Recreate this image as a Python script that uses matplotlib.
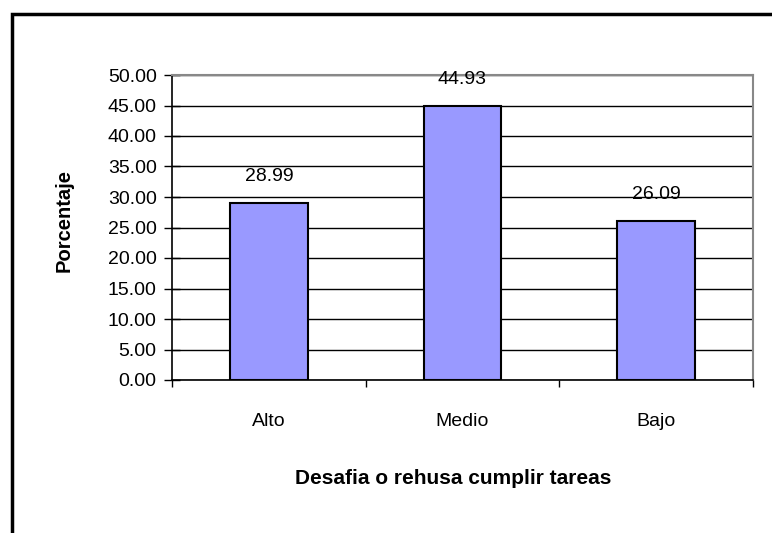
import matplotlib
matplotlib.use("Agg")
import matplotlib.pyplot as plt
from matplotlib.patches import Rectangle

categories = ["Alto", "Medio", "Bajo"]
values = [28.99, 44.93, 26.09]
yticks = [0, 5, 10, 15, 20, 25, 30, 35, 40, 45, 50]
xlabel = "Desafia o rehusa cumplir tareas"
ylabel = "Porcentaje"

plain = ["Liberation Sans", "DejaVu Sans"]

fig = plt.figure(figsize=(7.72, 5.33), dpi=100)
fig.patch.set_facecolor("white")

# outer chart frame (cropped at right and bottom)
fig.add_artist(Rectangle((12/772, -0.05), 1.2, (533-14)/533 + 0.05,
                         transform=fig.transFigure, fill=False,
                         edgecolor="black", linewidth=2.5))

ax = fig.add_axes([172/772, (533-380)/533, (753-172)/772, (380-75)/533])
x = list(range(len(categories)))
ax.bar(x, values, width=0.4, color="#9999FF", edgecolor="black", linewidth=1.5, zorder=3)
ax.set_xlim(-0.5, len(categories) - 0.5)
ax.set_ylim(0, 50)

ax.set_yticks(yticks)
ax.set_yticklabels([f"{v:.2f}" for v in yticks], fontfamily=plain, fontsize=14)
ax.yaxis.grid(True, color="black", linewidth=1, zorder=0)
ax.set_axisbelow(True)

ax.set_xticks(x)
ax.set_xticklabels(categories, fontfamily=plain, fontsize=14)
ax.tick_params(axis="x", length=0, pad=24)
ax.tick_params(axis="y", direction="inout", length=12, width=1, color="black", pad=5)
# category boundary ticks
ax.set_xticks([-0.5, 0.5, 1.5, 2.5], minor=True)
ax.tick_params(axis="x", which="minor", length=5, width=1, color="black")

for s in ["top", "right"]:
    ax.spines[s].set_color("#888888")
    ax.spines[s].set_linewidth(1.5)
for s in ["left", "bottom"]:
    ax.spines[s].set_color("black")
    ax.spines[s].set_linewidth(1.2)

for xi, v in zip(x, values):
    ax.annotate(f"{v:.2f}", (xi, v), xytext=(0, 16), textcoords="offset points",
                ha="center", va="baseline", fontfamily=plain, fontsize=14)

fig.text(453/772, 1 - 479/533, xlabel, ha="center", va="center",
         fontfamily=plain, fontsize=15, fontweight="bold")
fig.text(64/772, 1 - 220/533, ylabel, ha="center", va="center", rotation=90,
         fontfamily=plain, fontsize=14.5, fontweight="bold")

fig.savefig("out.png", dpi=100)
